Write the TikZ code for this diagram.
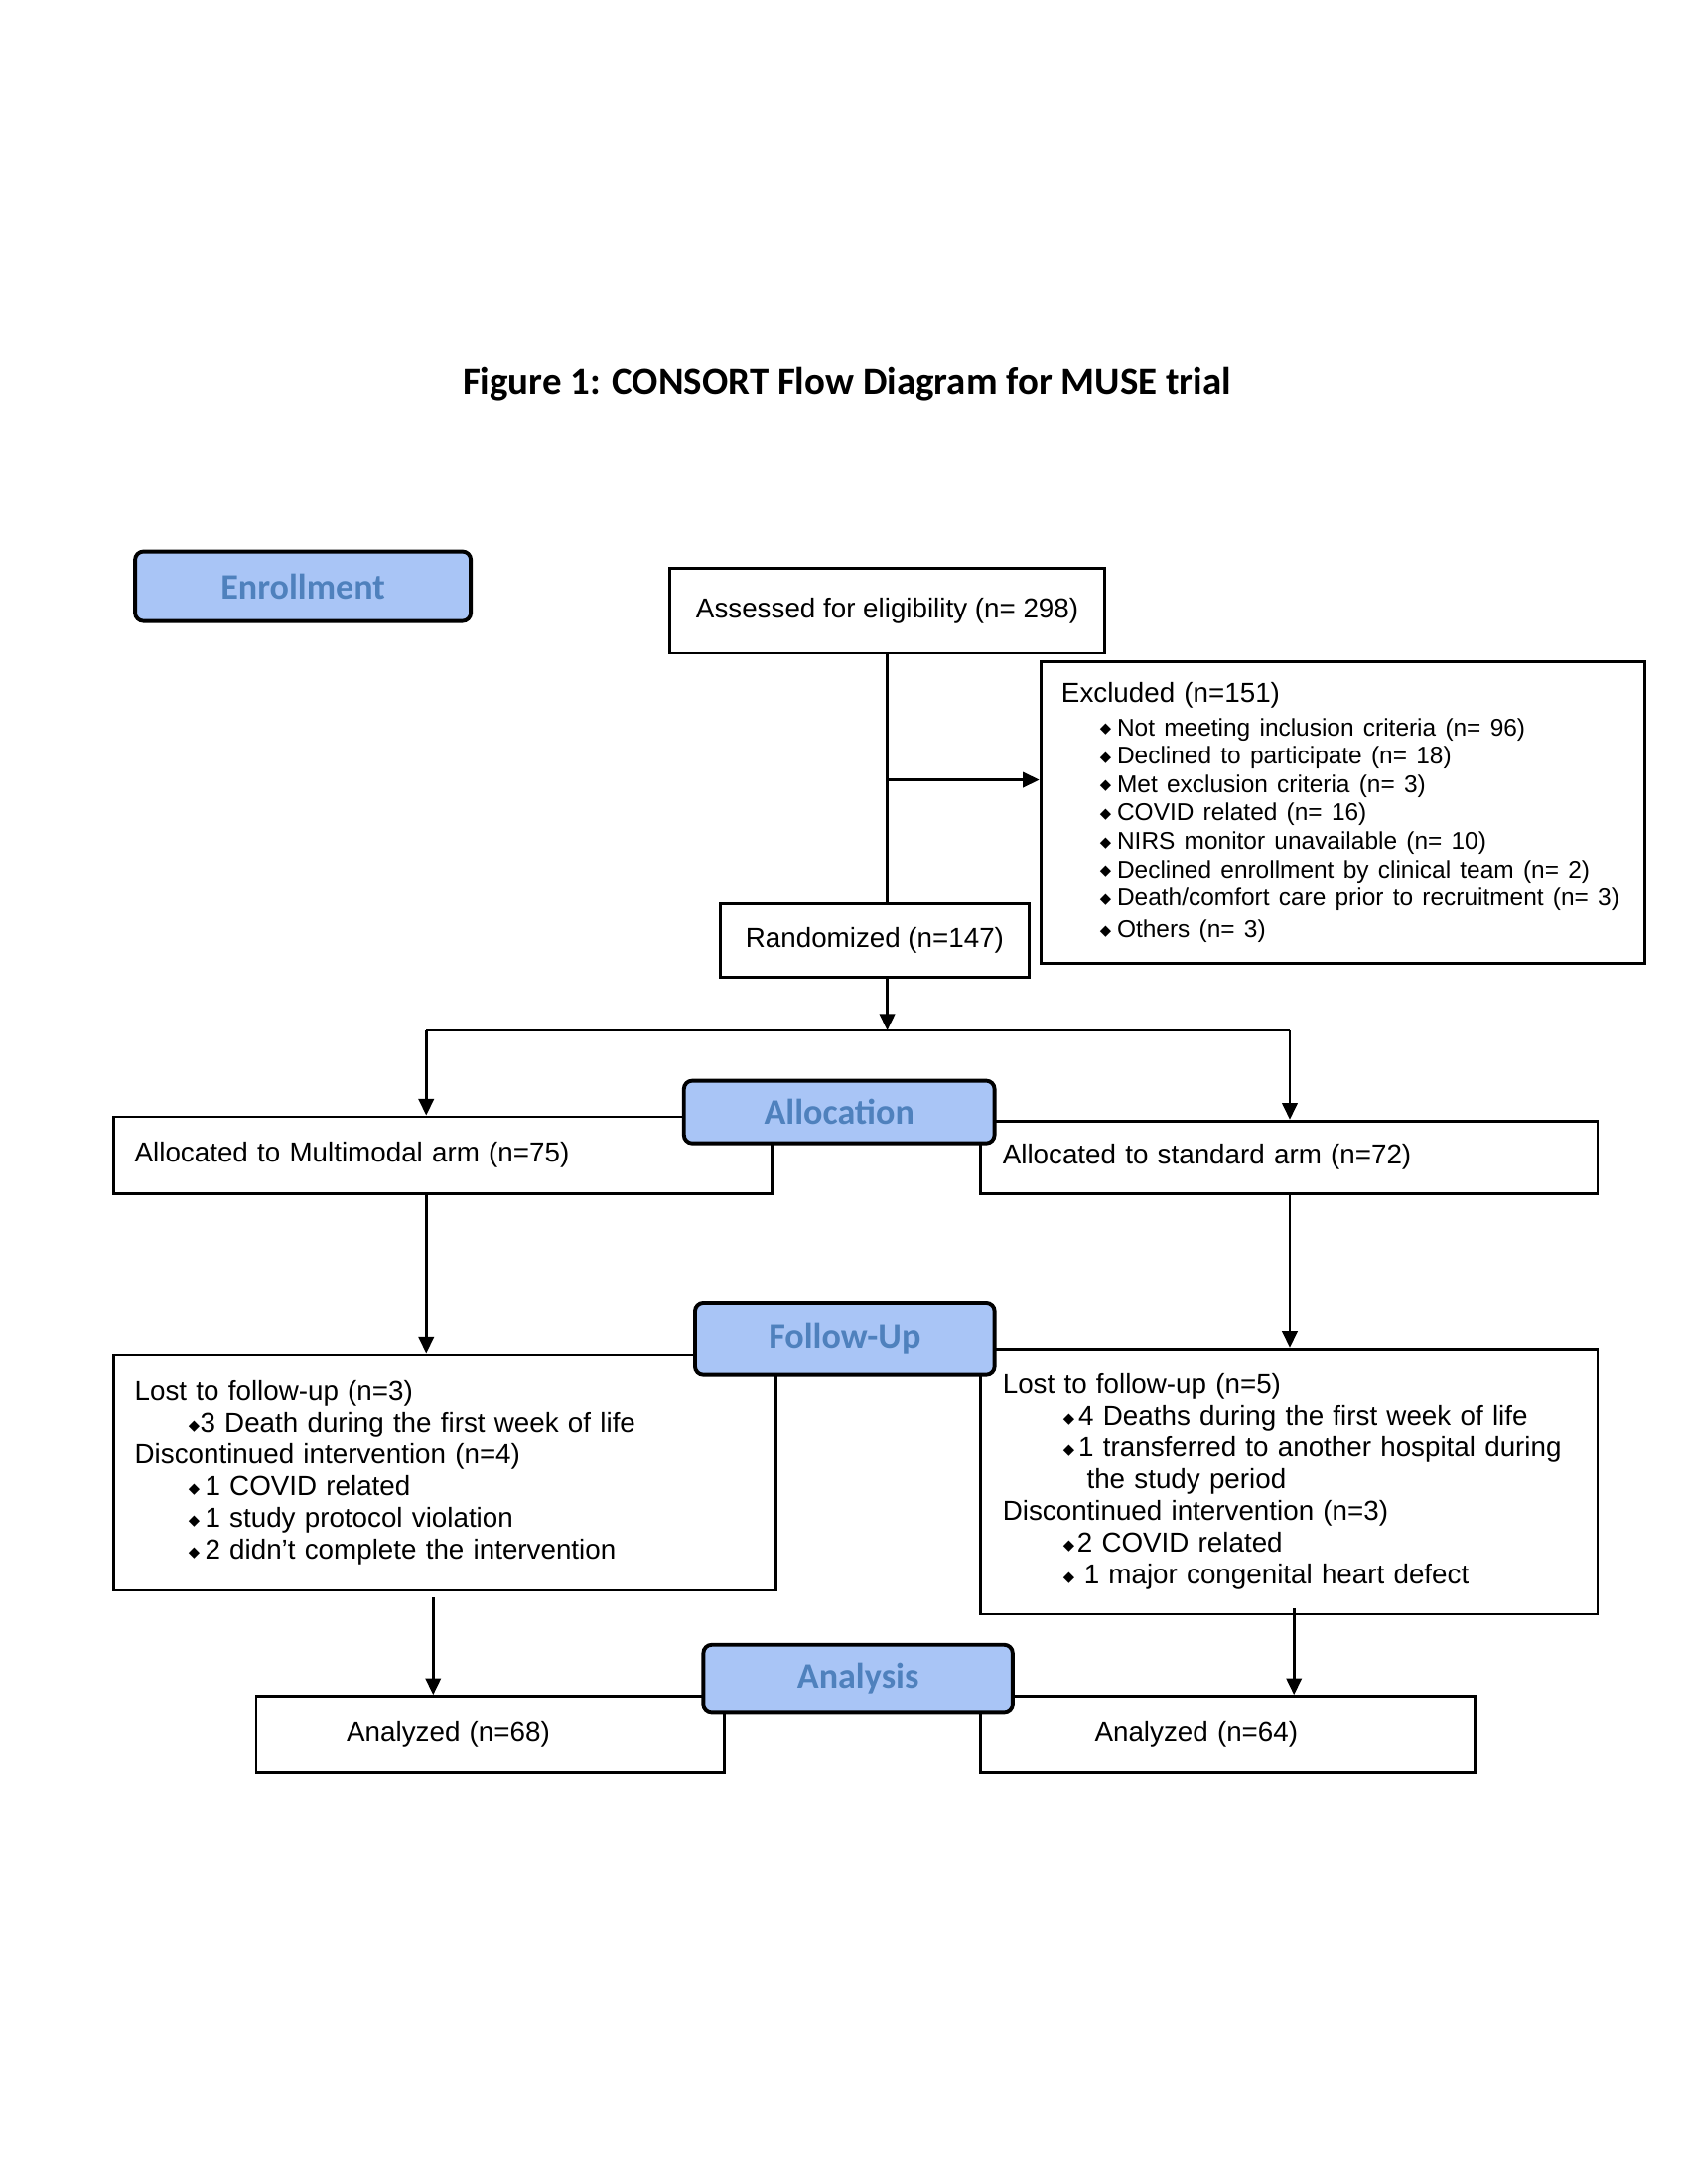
\documentclass[tikz,border=0pt]{standalone}
\usepackage{fontspec}
\setmainfont{Liberation Sans}
\newfontfamily\calfont{Carlito}
\newfontfamily\dejavu{DejaVu Sans}
\usetikzlibrary{arrows.meta}
\definecolor{lblfill}{RGB}{169,197,246}
\definecolor{lbltext}{RGB}{79,129,189}
\newcommand\dia{{\dejavu\fontsize{5.3}{5}\selectfont\raisebox{0.9pt}{◆}}}
% #1 indent before bullet, #2 box holding bullet, #3 text
\newcommand\bul[3]{\mbox{\hspace*{#1}\makebox[#2][l]{\dia}#3}}
\tikzset{
  bx/.style={draw, line width=1pt, rectangle, inner ysep=0pt,
    font=\fontsize{10}{11.5}\selectfont},
  lbl/.style={draw, line width=1.4pt, rounded corners=3pt, fill=lblfill,
    text=lbltext, font=\calfont\bfseries\fontsize{13}{15}\selectfont, inner sep=0pt},
  conn/.style={line width=1pt},
  arr/.style={line width=1pt, -{Triangle[length=6pt,width=5.5pt]}}
}
\begin{document}
\begin{tikzpicture}[x=0.505pt,y=-0.505pt]
\useasboundingbox (0pt,0pt) rectangle (612pt,-792pt);

\node[font=\calfont\bfseries\fontsize{14}{16}\selectfont] (title) at (608,276) {Figure 1: CONSORT Flow Diagram for MUSE trial};

% boxes
\node[bx, minimum width=157.5pt, minimum height=30.8pt, align=center] (assess) at (637,438.5) {Assessed for eligibility (n= 298)};

\node[bx, minimum width=219pt, minimum height=109.5pt, inner xsep=7.5pt, text width=204pt, align=left] (excl) at (964,583.5)
{Excluded (n=151)\\[1.8pt]
\fontsize{8.8}{10.3}\selectfont
\bul{14pt}{6.2pt}{Not meeting inclusion criteria (n= 96)}\\
\bul{14pt}{6.2pt}{Declined to participate (n= 18)}\\
\bul{14pt}{6.2pt}{Met exclusion criteria (n= 3)}\\
\bul{14pt}{6.2pt}{COVID related (n= 16)}\\
\bul{14pt}{6.2pt}{NIRS monitor unavailable (n= 10)}\\
\bul{14pt}{6.2pt}{Declined enrollment by clinical team (n= 2)}\\
\bul{14pt}{6.2pt}{Death/comfort care prior to recruitment (n= 3)}\\
\bul{14pt}{6.2pt}{Others (n= 3)}};

\node[bx, minimum width=112pt, minimum height=26.8pt, align=center] (rand) at (628,675.5) {Randomized (n=147)};

\node[bx, minimum width=238.5pt, minimum height=27.8pt, inner xsep=7.5pt, text width=223.5pt, align=left] (allocL) at (318,829.5) {Allocated to Multimodal arm (n=75)};
\node[bx, minimum width=223.7pt, minimum height=26.3pt, inner xsep=8pt, text width=207.7pt, align=left] (allocR) at (925.5,831) {Allocated to standard arm (n=72)};

\node[bx, minimum width=240pt, minimum height=85.3pt, inner xsep=7.5pt, text width=225pt, align=left] (ful) at (319.5,1057.5)
{Lost to follow-up (n=3)\\
\bul{19.5pt}{4.2pt}{3 Death during the first week of life}\\
Discontinued intervention (n=4)\\
\bul{19.5pt}{6pt}{1 COVID related}\\
\bul{19.5pt}{6pt}{1 study protocol violation}\\
\bul{19.5pt}{6pt}{2 didn’t complete the intervention}};

\node[bx, minimum width=223.7pt, minimum height=96pt, inner xsep=8pt, text width=207.7pt, align=left] (fur) at (925.5,1064)
{Lost to follow-up (n=5)\\
\bul{22pt}{5.5pt}{4 Deaths during the first week of life}\\
\bul{22pt}{5.5pt}{1 transferred to another hospital during}\\
\mbox{\hspace*{30.5pt}the study period}\\
Discontinued intervention (n=3)\\
\bul{22pt}{5pt}{2 COVID related}\\
\bul{22pt}{7.5pt}{1 major congenital heart defect}};

\node[bx, minimum width=169.7pt, minimum height=27.8pt, inner xsep=32.8pt, text width=104.1pt, align=left] (anaL) at (352,1245.5) {Analyzed (n=68)};
\node[bx, minimum width=179.3pt, minimum height=27.8pt, inner xsep=41.4pt, text width=96.5pt, align=left] (anaR) at (881.5,1245.5) {Analyzed (n=64)};

% connectors
\coordinate (j1) at (637,560);
\coordinate (split) at (637,740);
\coordinate (sl) at (306,740);
\coordinate (sr) at (926,740);
\coordinate (xl2) at (311,1147);
\coordinate (xr2) at (929,1155);

\draw[conn] (assess.south -| j1) -- (rand.north -| j1);
\draw[arr] (j1) -- (j1 -| excl.west);
\draw[arr] (rand.south -| split) -- (split);
\draw[conn] (sl) -- (sr);
\draw[arr] (sl) -- (sl |- allocL.north);
\draw[arr] (sr) -- (sr |- allocR.north);
\draw[arr] (allocL.south -| sl) -- (ful.north -| sl);
\draw[arr] (allocR.south -| sr) -- (fur.north -| sr);
\draw[arr] (xl2) -- (xl2 |- anaL.north);
\draw[arr] (xr2) -- (xr2 |- anaR.north);

% section labels
\node[lbl, minimum width=121.7pt, minimum height=25.2pt] (enr) at (217.5,421) {Enrollment};
\node[lbl, minimum width=112.6pt, minimum height=22.7pt] (alo) at (602.5,798.5) {Allocation};
\node[lbl, minimum width=108.6pt, minimum height=25.8pt] (fol) at (606.5,961.5) {Follow-Up};
\node[lbl, minimum width=112.1pt, minimum height=24.7pt] (ana) at (616,1205.5) {Analysis};
\end{tikzpicture}
\end{document}
